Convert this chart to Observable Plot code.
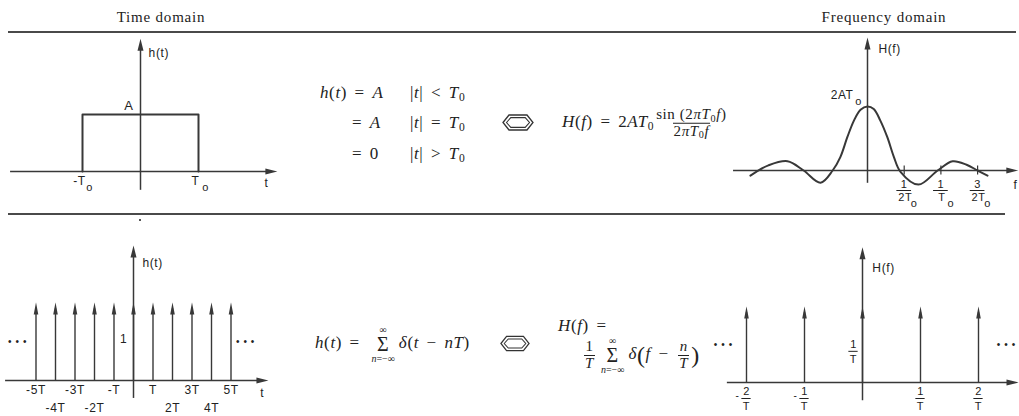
<!DOCTYPE html>
<html><head><meta charset="utf-8">
<script src="https://cdn.jsdelivr.net/npm/d3@7"></script>
<script src="https://cdn.jsdelivr.net/npm/@observablehq/plot@0.6"></script>
<style>
html,body{margin:0;padding:0;background:#fff;}
#root{position:relative;width:1019px;height:416px;overflow:hidden;font-family:"Liberation Serif","DejaVu Serif",serif;color:#222;}
.title{position:absolute;font-size:15px;letter-spacing:0.8px;transform:translate(-50%,-50%);white-space:nowrap;}
.hrule{position:absolute;height:1.6px;background:#4a4a4a;}
.math{position:absolute;font-size:17px;letter-spacing:0.6px;white-space:nowrap;transform:translateY(-50%);font-style:italic;line-height:1;}
.rm{font-style:normal;}
.op{font-style:normal;margin:0 0.45em;}
.frac{display:inline-flex;flex-direction:column;align-items:center;vertical-align:middle;font-size:15px;line-height:1.05;margin:0 2px;}
.frac .den{border-top:1px solid #222;padding:0 1px;}
.sub{font-size:68%;position:relative;top:0.25em;font-style:normal;}
.sum{display:inline-flex;flex-direction:column;align-items:center;vertical-align:middle;line-height:1.1;margin:0 4px;}
.sum .big{font-size:20px;font-style:normal;line-height:0.9;}
.sum .lim{font-size:10px;letter-spacing:0;}
.paren{font-size:24px;font-style:normal;vertical-align:middle;}
.panel{position:absolute;}
.hex{position:absolute;}
</style></head>
<body>
<div id="root">
  <div class="title" style="left:161px;top:17px">Time domain</div>
  <div class="title" style="left:884px;top:17px">Frequency domain</div>
  <div class="hrule" style="left:8px;top:31px;width:1008px"></div>
  <div class="hrule" style="left:8px;top:213px;width:997px"></div>
  <div style="position:absolute;left:139px;top:219px;width:2px;height:2px;background:#555"></div>

  <!-- top formulas -->
  <div class="math" style="left:320px;top:92px">h<span class="rm">(</span>t<span class="rm">)</span><span class="op">=</span>A</div>
  <div class="math" style="left:410px;top:92px"><span class="rm">|</span>t<span class="rm">|</span><span class="op">&lt;</span>T<span class="sub">0</span></div>
  <div class="math" style="left:352px;top:122px"><span class="op" style="margin-left:0">=</span>A</div>
  <div class="math" style="left:410px;top:122px"><span class="rm">|</span>t<span class="rm">|</span><span class="op">=</span>T<span class="sub">0</span></div>
  <div class="math" style="left:352px;top:153px"><span class="op" style="margin-left:0">=</span><span class="rm">0</span></div>
  <div class="math" style="left:410px;top:153px"><span class="rm">|</span>t<span class="rm">|</span><span class="op">&gt;</span>T<span class="sub">0</span></div>
  <svg class="hex" style="left:502px;top:114px" width="32" height="17" viewBox="0 0 32 17">
    <polygon points="1,8.5 7,1 25,1 31,8.5 25,16 7,16" fill="none" stroke="#333" stroke-width="1.3"/>
    <polygon points="4.5,8.5 8.8,3.6 23.2,3.6 27.5,8.5 23.2,13.4 8.8,13.4" fill="none" stroke="#333" stroke-width="1.1"/>
  </svg>
  <div class="math" style="left:562px;top:123px">H<span class="rm">(</span>f<span class="rm">)</span><span class="op">=</span><span class="rm">2</span>AT<span class="sub">0</span><span class="frac"><span class="num"><span class="rm">sin (2</span>πT<span class="sub">0</span>f<span class="rm">)</span></span><span class="den"><span class="rm">2</span>πT<span class="sub">0</span>f</span></span></div>

  <!-- bottom formulas -->
  <div class="math" style="left:315px;top:344px">h<span class="rm">(</span>t<span class="rm">)</span><span class="op">=</span><span class="sum"><span class="lim rm">∞</span><span class="big">Σ</span><span class="lim">n<span class="rm">=−∞</span></span></span>δ<span class="rm">(</span>t<span class="op">−</span>nT<span class="rm">)</span></div>
  <svg class="hex" style="left:500px;top:335px" width="30" height="17" viewBox="0 0 32 17">
    <polygon points="1,8.5 7,1 25,1 31,8.5 25,16 7,16" fill="none" stroke="#333" stroke-width="1.3"/>
    <polygon points="4.5,8.5 8.8,3.6 23.2,3.6 27.5,8.5 23.2,13.4 8.8,13.4" fill="none" stroke="#333" stroke-width="1.1"/>
  </svg>
  <div class="math" style="left:558px;top:325px">H<span class="rm">(</span>f<span class="rm">)</span><span class="op">=</span></div>
  <div class="math" style="left:582px;top:355px"><span class="frac"><span class="num rm">1</span><span class="den">T</span></span><span class="sum"><span class="lim rm">∞</span><span class="big">Σ</span><span class="lim">n<span class="rm">=−∞</span></span></span>δ<span class="paren">(</span>f<span class="op">−</span><span class="frac"><span class="num">n</span><span class="den">T</span></span><span class="paren">)</span></div>

  <div id="pA" class="panel"></div>
  <div id="pB" class="panel"></div>
  <div id="pC" class="panel"></div>
  <div id="pD" class="panel"></div>
</div>
<script>
// ---------- data ----------
// Top-left: rectangular pulse (t in units of T0, amplitude in units of A)
const pulseEdgeT = [-1, -1, 1, 1];
const pulseLevel = [0, 1, 1, 0];
const pulseTickT = [-1, 1];
const pulseTickLabels = ["-T", "T"];

// Top-right: H(f) (u = 2*T0*f, value in units of 2AT0)
const sincU = [-3.19, -2.7, -2.18, -1.74, -1.28, -0.95, -0.74, -0.55, -0.37, -0.19, 0, 0.17, 0.35, 0.54, 0.72, 0.9, 1.39, 1.91, 2.32, 2.7, 3.0, 3.27];
const sincV = [-0.08, 0.08, 0.145, 0.0, -0.19, 0.0, 0.21, 0.52, 0.78, 0.95, 1.0, 0.96, 0.78, 0.52, 0.21, -0.02, -0.22, 0.0, 0.145, 0.09, 0.0, -0.08];
const sincTickU = [1, 2, 3];
const sincTickNum = ["1", "1", "3"];
const sincTickDen = ["2T", "T", "2T"];

// Bottom-left: impulse train at t = nT, weight 1
const combN = [-5, -4, -3, -2, -1, 0, 1, 2, 3, 4, 5];
const combWeight = 1;
const combOddN = [-5, -3, -1, 1, 3, 5];
const combOddLabels = ["-5T", "-3T", "-T", "T", "3T", "5T"];
const combEvenN = [-4, -2, 2, 4];
const combEvenLabels = ["-4T", "-2T", "2T", "4T"];

// Bottom-right: impulses at f = k/T, weight 1/T
const specK = [-2, -1, 0, 1, 2];
const specWeight = 1;
const specTickK = [-2, -1, 1, 2];
const specTickNum = ["2", "1", "1", "2"];

// ---------- helpers ----------
const ink = "#383838";
const sans = '"Liberation Sans", Arial, sans-serif';
const headUp = {draw(c){ c.moveTo(0,0); c.lineTo(3,12); c.lineTo(-3,12); c.closePath(); }};
const headRight = {draw(c){ c.moveTo(0,0); c.lineTo(-12,3); c.lineTo(-12,-3); c.closePath(); }};
const thinUp = {draw(c){ c.moveTo(0,0); c.lineTo(2.3,12); c.lineTo(-2.3,12); c.closePath(); }};

function panel(id, {left, top, width, height, ox, oy, sx, sy}, marks) {
  const xd = [(left - ox) / sx, (left + width - ox) / sx];
  const yd = [(oy - top - height) / sy, (oy - top) / sy];
  const chart = Plot.plot({
    width, height, margin: 0,
    x: {domain: xd, axis: null},
    y: {domain: yd, axis: null},
    style: {fontFamily: sans, fontSize: "12px", letterSpacing: "0.6px", color: "#222", background: "transparent", overflow: "visible"},
    marks
  });
  const el = document.getElementById(id);
  el.style.left = left + "px"; el.style.top = top + "px";
  el.appendChild(chart);
}
const T = (data, o) => Plot.text(data, {fill: "#222", fontFamily: sans, ...o});

// ---------- Panel A: rectangular pulse ----------
panel("pA", {left: 0, top: 32, width: 290, height: 170, ox: 140, oy: 171, sx: 58, sy: 57}, [
  Plot.ruleY([0], {x1: -2.24, x2: 2.2, stroke: ink, strokeWidth: 1.5}),
  Plot.dot([2.36], {x: d => d, y: 0, symbol: headRight, fill: ink, stroke: "none"}),
  Plot.ruleX([0], {y1: -0.33, y2: 2.2, stroke: ink, strokeWidth: 1.5}),
  Plot.dot([0], {x: 0, y: 2.33, symbol: headUp, fill: ink, stroke: "none"}),
  Plot.line(d3.zip(pulseEdgeT, pulseLevel), {x: d => d[0], y: d => d[1], stroke: ink, strokeWidth: 2}),
  T(pulseTickT, {x: d => d, y: 0, dy: 10, dx: -3, text: (d, i) => pulseTickLabels[i], fontSize: 12}),
  T(pulseTickT, {x: d => d, y: 0, dy: 16, dx: 7, text: () => "o", fontSize: 11}),
  T(["A"], {x: -0.2, y: 1, dy: -9, text: d => d, fontSize: 13}),
  T(["h(t)"], {x: 0.14, y: 2.07, text: d => d, textAnchor: "start", fontSize: 12}),
  T(["t"], {x: 2.17, y: 0, dy: 12, text: d => d, fontSize: 12})
]);

// ---------- Panel B: sinc spectrum ----------
panel("pB", {left: 720, top: 32, width: 299, height: 180, ox: 867, oy: 170, sx: 36.7, sy: 64}, [
  Plot.ruleY([0], {x1: -3.65, x2: 3.9, stroke: ink, strokeWidth: 1.5}),
  Plot.dot([4.11], {x: d => d, y: 0, symbol: headRight, fill: ink, stroke: "none"}),
  Plot.ruleX([0], {y1: -0.2, y2: 1.95, stroke: ink, strokeWidth: 1.5}),
  Plot.dot([0], {x: 0, y: 2.08, symbol: headUp, fill: ink, stroke: "none"}),
  Plot.ruleX(sincTickU, {x: d => d, y1: -0.07, y2: 0.07, stroke: ink, strokeWidth: 1.2}),
  Plot.line(d3.zip(sincU, sincV), {x: d => d[0], y: d => d[1], curve: "catmull-rom", stroke: ink, strokeWidth: 2}),
  T(sincTickU, {x: d => d, y: 0, dy: 14, text: (d, i) => sincTickNum[i], fontSize: 11}),
  Plot.ruleY(sincTickU, {x1: d => d - 0.2, x2: d => d + 0.2, y: 0, dy: 20, stroke: "#222", strokeWidth: 1}),
  T(sincTickU, {x: d => d, y: 0, dy: 27, dx: 1, text: (d, i) => sincTickDen[i], fontSize: 11}),
  T(sincTickU, {x: d => d, y: 0, dy: 33, dx: 10, text: () => "o", fontSize: 11}),
  T(["2AT"], {x: -0.38, y: 1.17, text: d => d, textAnchor: "end", fontSize: 12}),
  T(["o"], {x: -0.38, y: 1.17, dx: 5, dy: 6, text: d => d, fontSize: 11}),
  T(["H(f)"], {x: 0.3, y: 1.9, text: d => d, textAnchor: "start", fontSize: 12}),
  T(["f"], {x: 4.03, y: 0, dy: 15, text: d => d, fontSize: 12})
]);

// ---------- Panel C: impulse train ----------
panel("pC", {left: 0, top: 216, width: 290, height: 200, ox: 133, oy: 380, sx: 19.5, sy: 78}, [
  Plot.ruleY([0], {x1: -6.56, x2: 6.6, stroke: ink, strokeWidth: 1.5}),
  Plot.dot([6.92], {x: d => d, y: 0, symbol: headRight, fill: ink, stroke: "none"}),
  Plot.ruleX([0], {y1: -0.23, y2: 1.6, stroke: ink, strokeWidth: 1.5}),
  Plot.dot([0], {x: 0, y: 1.73, symbol: headUp, fill: ink, stroke: "none"}),
  Plot.ruleX(combN, {x: d => d, y1: 0, y2: combWeight - 0.08, stroke: ink, strokeWidth: 1.4}),
  Plot.dot(combN, {x: d => d, y: combWeight, symbol: thinUp, fill: ink, stroke: "none"}),
  T(combOddN, {x: d => d, y: 0, dy: 10, text: (d, i) => combOddLabels[i], fontSize: 12}),
  T(combEvenN, {x: d => d, y: 0, dy: 28, text: (d, i) => combEvenLabels[i], fontSize: 12}),
  T(["1"], {x: -0.51, y: 0.53, text: d => d, fontSize: 12}),
  T(["h(t)"], {x: 0.46, y: 1.5, text: d => d, textAnchor: "start", fontSize: 12}),
  T(["t"], {x: 6.6, y: 0, dy: 13, text: d => d, fontSize: 12}),
  T([-5.95, 5.74], {x: d => d, y: 0.5, text: () => "• • •", fontSize: 10})
]);

// ---------- Panel D: spectrum impulses ----------
panel("pD", {left: 700, top: 216, width: 319, height: 200, ox: 862, oy: 382, sx: 58, sy: 76}, [
  Plot.ruleY([0], {x1: -2.33, x2: 2.5, stroke: ink, strokeWidth: 1.5}),
  Plot.dot([2.69], {x: d => d, y: 0, symbol: headRight, fill: ink, stroke: "none"}),
  Plot.ruleX([0], {y1: -0.24, y2: 1.65, stroke: ink, strokeWidth: 1.5}),
  Plot.dot([0], {x: 0, y: 1.78, symbol: headUp, fill: ink, stroke: "none"}),
  Plot.ruleX(specK, {x: d => d, y1: 0, y2: specWeight - 0.08, stroke: ink, strokeWidth: 1.4}),
  Plot.dot(specK, {x: d => d, y: specWeight, symbol: thinUp, fill: ink, stroke: "none"}),
  T(specTickK, {x: d => d, y: 0, dy: 9, text: (d, i) => specTickNum[i], fontSize: 11}),
  Plot.ruleY(specTickK, {x1: d => d - 0.08, x2: d => d + 0.08, y: 0, dy: 16, stroke: "#222", strokeWidth: 1}),
  T(specTickK, {x: d => d, y: 0, dy: 24, text: () => "T", fontSize: 11}),
  T(specTickK.filter(d => d < 0), {x: d => d, y: 0, dy: 13, dx: -9, text: () => "-", fontSize: 10}),
  T(["1"], {x: -0.155, y: specWeight * 0.41, dy: -7, text: d => d, fontSize: 11}),
  Plot.ruleY([specWeight * 0.41], {x1: -0.155 - 0.08, x2: -0.155 + 0.08, y: d => d, stroke: "#222", strokeWidth: 1}),
  T(["T"], {x: -0.155, y: specWeight * 0.41, dy: 8, text: d => d, fontSize: 11}),
  T(["H(f)"], {x: 0.17, y: 1.5, text: d => d, textAnchor: "start", fontSize: 12}),
  T([-2.4, 2.48], {x: d => d, y: 0.5, text: () => "• • •", fontSize: 10})
]);
</script>
</body></html>
